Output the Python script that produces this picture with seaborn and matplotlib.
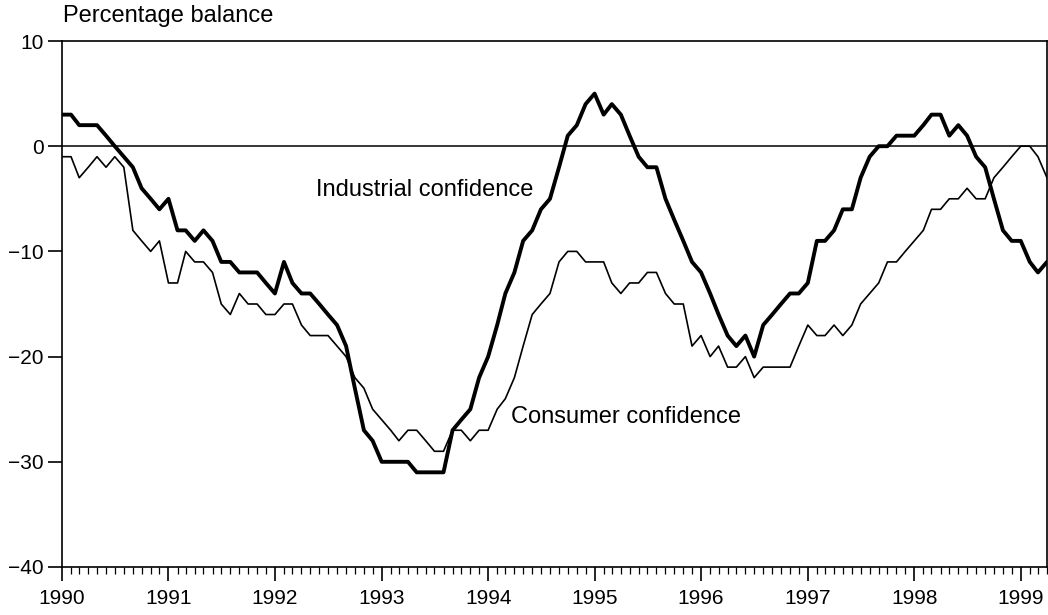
import pandas as pd
import matplotlib
matplotlib.use("Agg")
import matplotlib.pyplot as plt
import matplotlib.dates as mdates
import seaborn as sns

# Monthly survey balances, Jan 1990 - Apr 1999
start_month = "1990-01-01"
industrial = [
    3, 3, 2, 2, 2, 1, 0, -1, -2, -4, -5, -6,
    -5, -8, -8, -9, -8, -9, -11, -11, -12, -12, -12, -13,
    -14, -11, -13, -14, -14, -15, -16, -17, -19, -23, -27, -28,
    -30, -30, -30, -30, -31, -31, -31, -31, -27, -26, -25, -22,
    -20, -17, -14, -12, -9, -8, -6, -5, -2, 1, 2, 4,
    5, 3, 4, 3, 1, -1, -2, -2, -5, -7, -9, -11,
    -12, -14, -16, -18, -19, -18, -20, -17, -16, -15, -14, -14,
    -13, -9, -9, -8, -6, -6, -3, -1, 0, 0, 1, 1,
    1, 2, 3, 3, 1, 2, 1, -1, -2, -5, -8, -9,
    -9, -11, -12, -11,
]
consumer = [
    -1, -1, -3, -2, -1, -2, -1, -2, -8, -9, -10, -9,
    -13, -13, -10, -11, -11, -12, -15, -16, -14, -15, -15, -16,
    -16, -15, -15, -17, -18, -18, -18, -19, -20, -22, -23, -25,
    -26, -27, -28, -27, -27, -28, -29, -29, -27, -27, -28, -27,
    -27, -25, -24, -22, -19, -16, -15, -14, -11, -10, -10, -11,
    -11, -11, -13, -14, -13, -13, -12, -12, -14, -15, -15, -19,
    -18, -20, -19, -21, -21, -20, -22, -21, -21, -21, -21, -19,
    -17, -18, -18, -17, -18, -17, -15, -14, -13, -11, -11, -10,
    -9, -8, -6, -6, -5, -5, -4, -5, -5, -3, -2, -1,
    0, 0, -1, -3,
]
y_ticks = [-40, -30, -20, -10, 0, 10]

months = pd.date_range(start_month, periods=len(industrial), freq="MS")
df = pd.DataFrame({"month": months, "industrial": industrial, "consumer": consumer})

sns.set_style("white")
plt.rcParams["font.family"] = ["Liberation Sans", "DejaVu Sans"]
plt.rcParams["text.color"] = "black"
plt.rcParams["xtick.color"] = "black"
plt.rcParams["ytick.color"] = "black"

fig = plt.figure(figsize=(10.48, 6.15), dpi=100)
ax = fig.add_axes([62 / 1048, 48 / 615, 985 / 1048, 526 / 615])

ax.axhline(0, color="black", lw=1.1, zorder=1)
sns.lineplot(data=df, x="month", y="consumer", color="black", lw=1.2, ax=ax)
sns.lineplot(data=df, x="month", y="industrial", color="black", lw=2.8, ax=ax)

ax.set_xlim(months[0], months[-1])
ax.set_ylim(-40, 10)
ax.set_yticks(y_ticks)
ax.set_xlabel("")
ax.set_ylabel("")

ax.xaxis.set_major_locator(mdates.YearLocator())
ax.xaxis.set_major_formatter(mdates.DateFormatter("%Y"))
ax.xaxis.set_minor_locator(mdates.MonthLocator())

ax.tick_params(axis="x", which="major", direction="out", length=10, width=1.2,
               labelsize=15, pad=6, bottom=True)
ax.tick_params(axis="x", which="minor", direction="out", length=5, width=0.9, bottom=True)
ax.tick_params(axis="y", which="major", direction="out", length=10, width=1.2,
               labelsize=15, pad=3, left=True)

for side in ["left", "right", "top", "bottom"]:
    ax.spines[side].set_visible(True)
    ax.spines[side].set_color("black")
    ax.spines[side].set_linewidth(1.2)

# series labels
ax.text(pd.Timestamp("1992-05-22"), -4.2, "Industrial confidence", fontsize=17,
        ha="left", va="center")
ax.text(pd.Timestamp("1994-03-20"), -25.7, "Consumer confidence", fontsize=17,
        ha="left", va="center")

fig.text(63 / 1048, 1 - 16 / 615, "Percentage balance", fontsize=17, ha="left", va="center")

fig.savefig("out.png", dpi=100)
